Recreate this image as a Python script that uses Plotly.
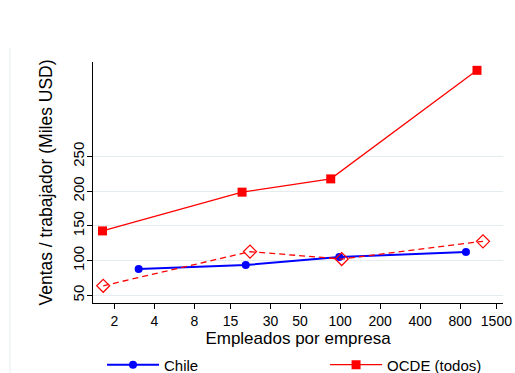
import plotly.graph_objects as go

# Data
chile_x = [3.05, 19.5, 98.6, 885]
chile_y = [88, 93.7, 105.2, 112.4]
ocde_x = [1.63, 18.3, 85, 1072]
ocde_y = [142.8, 198.6, 217.7, 374]
ocde2_x = [1.65, 21, 102.8, 1189]
ocde2_y = [63.8, 113, 102.3, 127.8]

x_ticks = [2, 4, 8, 15, 30, 50, 100, 200, 400, 800, 1500]
y_ticks = [50, 100, 150, 200, 250]

FONT = "Liberation Sans, Arial, sans-serif"

fig = go.Figure()
fig.add_trace(go.Scatter(
    x=chile_x, y=chile_y, mode="lines+markers", name="Chile",
    line=dict(color="#0000ff", width=2),
    marker=dict(symbol="circle", size=8, color="#0000ff"),
    legend="legend",
))
fig.add_trace(go.Scatter(
    x=ocde_x, y=ocde_y, mode="lines+markers", name="OCDE (todos)",
    line=dict(color="#ff0000", width=1.3),
    marker=dict(symbol="square", size=9, color="#ff0000"),
    legend="legend2",
))
fig.add_trace(go.Scatter(
    x=ocde2_x, y=ocde2_y, mode="lines+markers", name="OCDE",
    line=dict(color="#ff0000", width=1.3, dash="6px,4px"),
    marker=dict(symbol="diamond-open", size=10, color="#ff0000", line=dict(width=1.2)),
    showlegend=False,
))

leg_common = dict(orientation="h", y=-0.257, xanchor="left", yanchor="middle",
                  font=dict(size=15, family=FONT), bgcolor="rgba(0,0,0,0)",
                  itemwidth=52)

fig.update_layout(
    width=515, height=373,
    margin=dict(l=93, r=12, t=62, b=70, pad=0, autoexpand=False),
    paper_bgcolor="white", plot_bgcolor="white",
    font=dict(family=FONT, size=14, color="#000"),
    showlegend=True,
    legend=dict(x=0.022, **leg_common),
    legend2=dict(x=0.566, **leg_common),
    xaxis=dict(
        type="log", range=[0.1407, 3.2258], automargin=False,
        tickmode="array", tickvals=x_ticks, ticktext=[str(v) for v in x_ticks],
        showgrid=False, showline=True, linecolor="#000", linewidth=1.2,
        ticks="outside", ticklen=5, tickcolor="#000",
        tickfont=dict(size=14, family=FONT),
        title=dict(text="Empleados por empresa", font=dict(size=17, family=FONT), standoff=2),
        zeroline=False,
    ),
    yaxis=dict(
        range=[39, 386], automargin=False,
        tickmode="array", tickvals=y_ticks, ticktext=[str(v) for v in y_ticks],
        tickangle=-90, ticklabelstandoff=-3,
        showgrid=True, gridcolor="#e6edf0", gridwidth=1,
        showline=True, linecolor="#000", linewidth=1.2,
        ticks="outside", ticklen=5, tickcolor="#000",
        tickfont=dict(size=15, family=FONT),
        title=dict(text="Ventas / trabajador (Miles USD)", font=dict(size=17.5, family=FONT), standoff=12),
        zeroline=False,
    ),
    shapes=[dict(type="line", xref="paper", yref="paper",
                 x0=-0.2024, x1=-0.2024, y0=1.058, y1=-0.3,
                 line=dict(color="#e8eef0", width=1))],
)

fig.write_html("out.html")
